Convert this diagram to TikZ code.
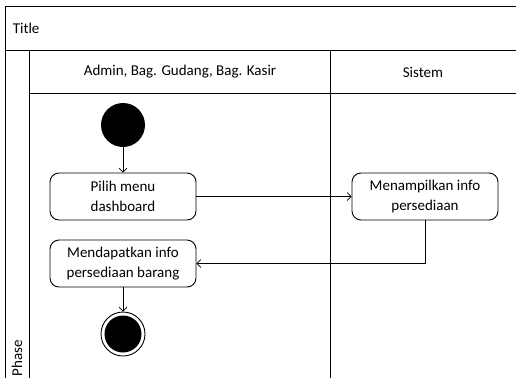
\documentclass[tikz,border=0pt]{standalone}
\usepackage{fontspec}
\setmainfont{Carlito}
\usetikzlibrary{arrows.meta}

\begin{document}
\begin{tikzpicture}[x=1pt, y=-1pt, line width=0.9pt,
  action/.style={draw, rounded corners=9pt, minimum width=146pt,
    minimum height=47pt, align=center, inner sep=2pt,
    font=\fontsize{15}{20}\selectfont},
  txt/.style={font=\fontsize{15}{18}\selectfont},
  flow/.style={-{Straight Barb[length=4pt,width=8pt]}, line width=0.7pt}]
\useasboundingbox (0,0) rectangle (516,378);
% swimlane frame
\draw (516,6) -- (5,6) -- (5,378);
\draw (5,50) -- (516,50);
\draw (29,50) -- (29,378);
\draw (29,93) -- (516,93);
\draw (330,50) -- (330,378);
\node[txt, anchor=west] (title) at (9,28) {Title};
\node[txt] (lane1) at (180,72) {Admin, Bag. Gudang, Bag. Kasir};
\node[txt] (lane2) at (423,72) {Sistem};
\node[txt, rotate=90] (phase) at (17,358) {Phase};
% activities
\node[circle, fill, minimum size=44pt, inner sep=0pt] (start) at (123,125) {};
\node[action] (pilih) at (123,196.5) {Pilih menu\\dashboard};
\node[action] (tampil) at (425,196.5) {Menampilkan info\\persediaan};
\node[action] (dapat) at (123,263.5) {Mendapatkan info\\persediaan barang};
\node[circle, draw, minimum size=44pt, inner sep=0pt] (end) at (123,334) {};
\node[circle, fill, minimum size=37pt, inner sep=0pt] (endin) at (end) {};
% flows
\draw[flow] (start) -- (pilih);
\draw[flow] (pilih) -- (tampil);
\draw[flow] (tampil.south) |- (dapat.east);
\draw[flow] (dapat) -- (end);
\end{tikzpicture}
\end{document}
